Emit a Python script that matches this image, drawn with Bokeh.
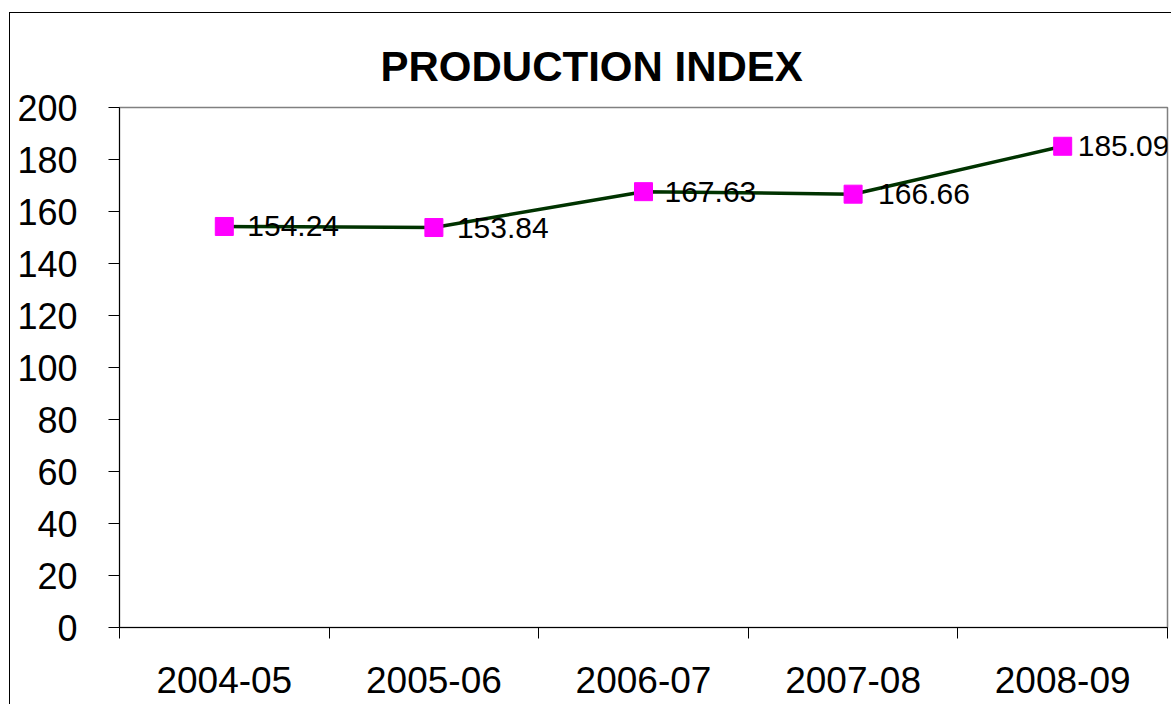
from bokeh.plotting import figure
from bokeh.models import ColumnDataSource, FixedTicker, Range1d, InlineStyleSheet
from bokeh.core.properties import value
from bokeh.embed import file_html
from bokeh.resources import INLINE

categories = ["2004-05", "2005-06", "2006-07", "2007-08", "2008-09"]
index_values = [154.24, 153.84, 167.63, 166.66, 185.09]
y_ticks = [0, 20, 40, 60, 80, 100, 120, 140, 160, 180, 200]
label_dx = [23, 23, 21, 25, 15]

FONT = "Liberation Sans"

xs = [i + 0.5 for i in range(len(categories))]
src = ColumnDataSource(dict(
    x=xs, y=index_values,
    lbl=[f"{v:.2f}" for v in index_values],
    dx=label_dx,
))

border_css = InlineStyleSheet(css="""
:host { position: relative; }
:host::after {
  content: "";
  position: absolute;
  left: 9px; top: 12px; right: -20px; bottom: -20px;
  border: 1.5px solid black;
  pointer-events: none;
}
""")

p = figure(width=1171, height=704, output_backend="svg", toolbar_location=None,
           x_range=Range1d(0, len(categories)), y_range=Range1d(0, 200),
           min_border_left=119, min_border_right=4, min_border_top=107, min_border_bottom=77,
           title="PRODUCTION INDEX", stylesheets=[border_css])

p.title.text_font = FONT
p.title.text_font_size = "42px"
p.title.text_font_style = "bold"
p.title.align = "left"
p.title.offset = 261
p.title.standoff = 35
p.title.text_color = "black"

p.grid.visible = False
p.outline_line_color = "#808080"
p.outline_line_width = 1.5
p.background_fill_color = "white"
p.border_fill_color = "white"

# x axis: labels at category centres, tick marks at category boundaries
p.xaxis.ticker = FixedTicker(ticks=xs, minor_ticks=list(range(len(categories) + 1)))
p.xaxis.major_label_overrides = {x: c for x, c in zip(xs, categories)}
p.xaxis.major_tick_out = 0
p.xaxis.major_tick_in = 0
p.xaxis.minor_tick_out = 11
p.xaxis.minor_tick_in = 0
p.xaxis.minor_tick_line_color = "black"
p.xaxis.axis_line_color = "black"
p.xaxis.major_label_text_font = FONT
p.xaxis.major_label_text_font_size = "37px"
p.xaxis.major_label_text_color = "black"
p.xaxis.major_label_standoff = 28

p.yaxis.ticker = FixedTicker(ticks=y_ticks)
p.yaxis.major_tick_out = 11
p.yaxis.major_tick_in = 0
p.yaxis.minor_tick_line_color = None
p.yaxis.axis_line_color = "black"
p.yaxis.major_tick_line_color = "black"
p.yaxis.major_label_text_font = FONT
p.yaxis.major_label_text_font_size = "36px"
p.yaxis.major_label_text_color = "black"
p.yaxis.major_label_standoff = 31

p.line("x", "y", source=src, line_color="#003300", line_width=3.5)
p.scatter("x", "y", source=src, marker="square", size=18,
          fill_color="#FF00FF", line_color="#FF00FF")
p.text("x", "y", text="lbl", source=src, x_offset="dx",
       text_font=value(FONT), text_font_size="30px", text_color="black",
       text_baseline="middle", text_align="left")

open("out.html", "w").write(file_html(p, INLINE))
